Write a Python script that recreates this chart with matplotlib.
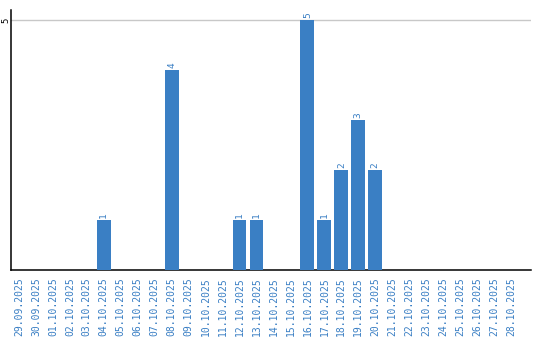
import matplotlib
matplotlib.use("Agg")
import matplotlib.pyplot as plt

dates = ["29.09.2025", "30.09.2025", "01.10.2025", "02.10.2025", "03.10.2025",
         "04.10.2025", "05.10.2025", "06.10.2025", "07.10.2025", "08.10.2025",
         "09.10.2025", "10.10.2025", "11.10.2025", "12.10.2025", "13.10.2025",
         "14.10.2025", "15.10.2025", "16.10.2025", "17.10.2025", "18.10.2025",
         "19.10.2025", "20.10.2025", "21.10.2025", "22.10.2025", "23.10.2025",
         "24.10.2025", "25.10.2025", "26.10.2025", "27.10.2025", "28.10.2025"]
counts = [0, 0, 0, 0, 0, 1, 0, 0, 0, 4, 0, 0, 0, 1, 1, 0, 0, 5, 1, 2, 3, 2,
          0, 0, 0, 0, 0, 0, 0, 0]

BLUE = "#3a7fc4"
fig = plt.figure(figsize=(5.4, 3.4), dpi=100)
ax = fig.add_axes([10.5/540, 70/340, (531-10.5)/540, 260/340])

x = list(range(len(dates)))
bars = ax.bar(x, counts, width=0.82, color=BLUE, zorder=3)
for xi, v in zip(x, counts):
    if v > 0:
        ax.text(xi, v + 0.04, str(v), rotation=90, ha="center", va="bottom",
                color=BLUE, fontsize=6.8, family="DejaVu Sans Mono")

ax.set_xlim(-0.5, 30.18)
ax.set_ylim(0, 5.2)
ax.set_xticks(x)
ax.set_xticklabels(dates, rotation=90, color=BLUE, fontsize=7,
                   family="DejaVu Sans Mono")
ax.set_yticks([5])
ax.set_yticklabels(["5"], rotation=90, va="center", fontsize=6.5,
                   family="DejaVu Sans Mono")
ax.tick_params(axis="both", length=0)
ax.tick_params(axis="x", pad=5)
ax.tick_params(axis="y", pad=0.3)
ax.yaxis.grid(True, color="#c8c8c8", linewidth=1, zorder=0)
for s in ["top", "right"]:
    ax.spines[s].set_visible(False)
ax.spines["left"].set_color("black")
ax.spines["bottom"].set_color("black")
ax.spines["left"].set_linewidth(1.1)
ax.spines["bottom"].set_linewidth(1.1)

fig.savefig("out.png", dpi=100)
